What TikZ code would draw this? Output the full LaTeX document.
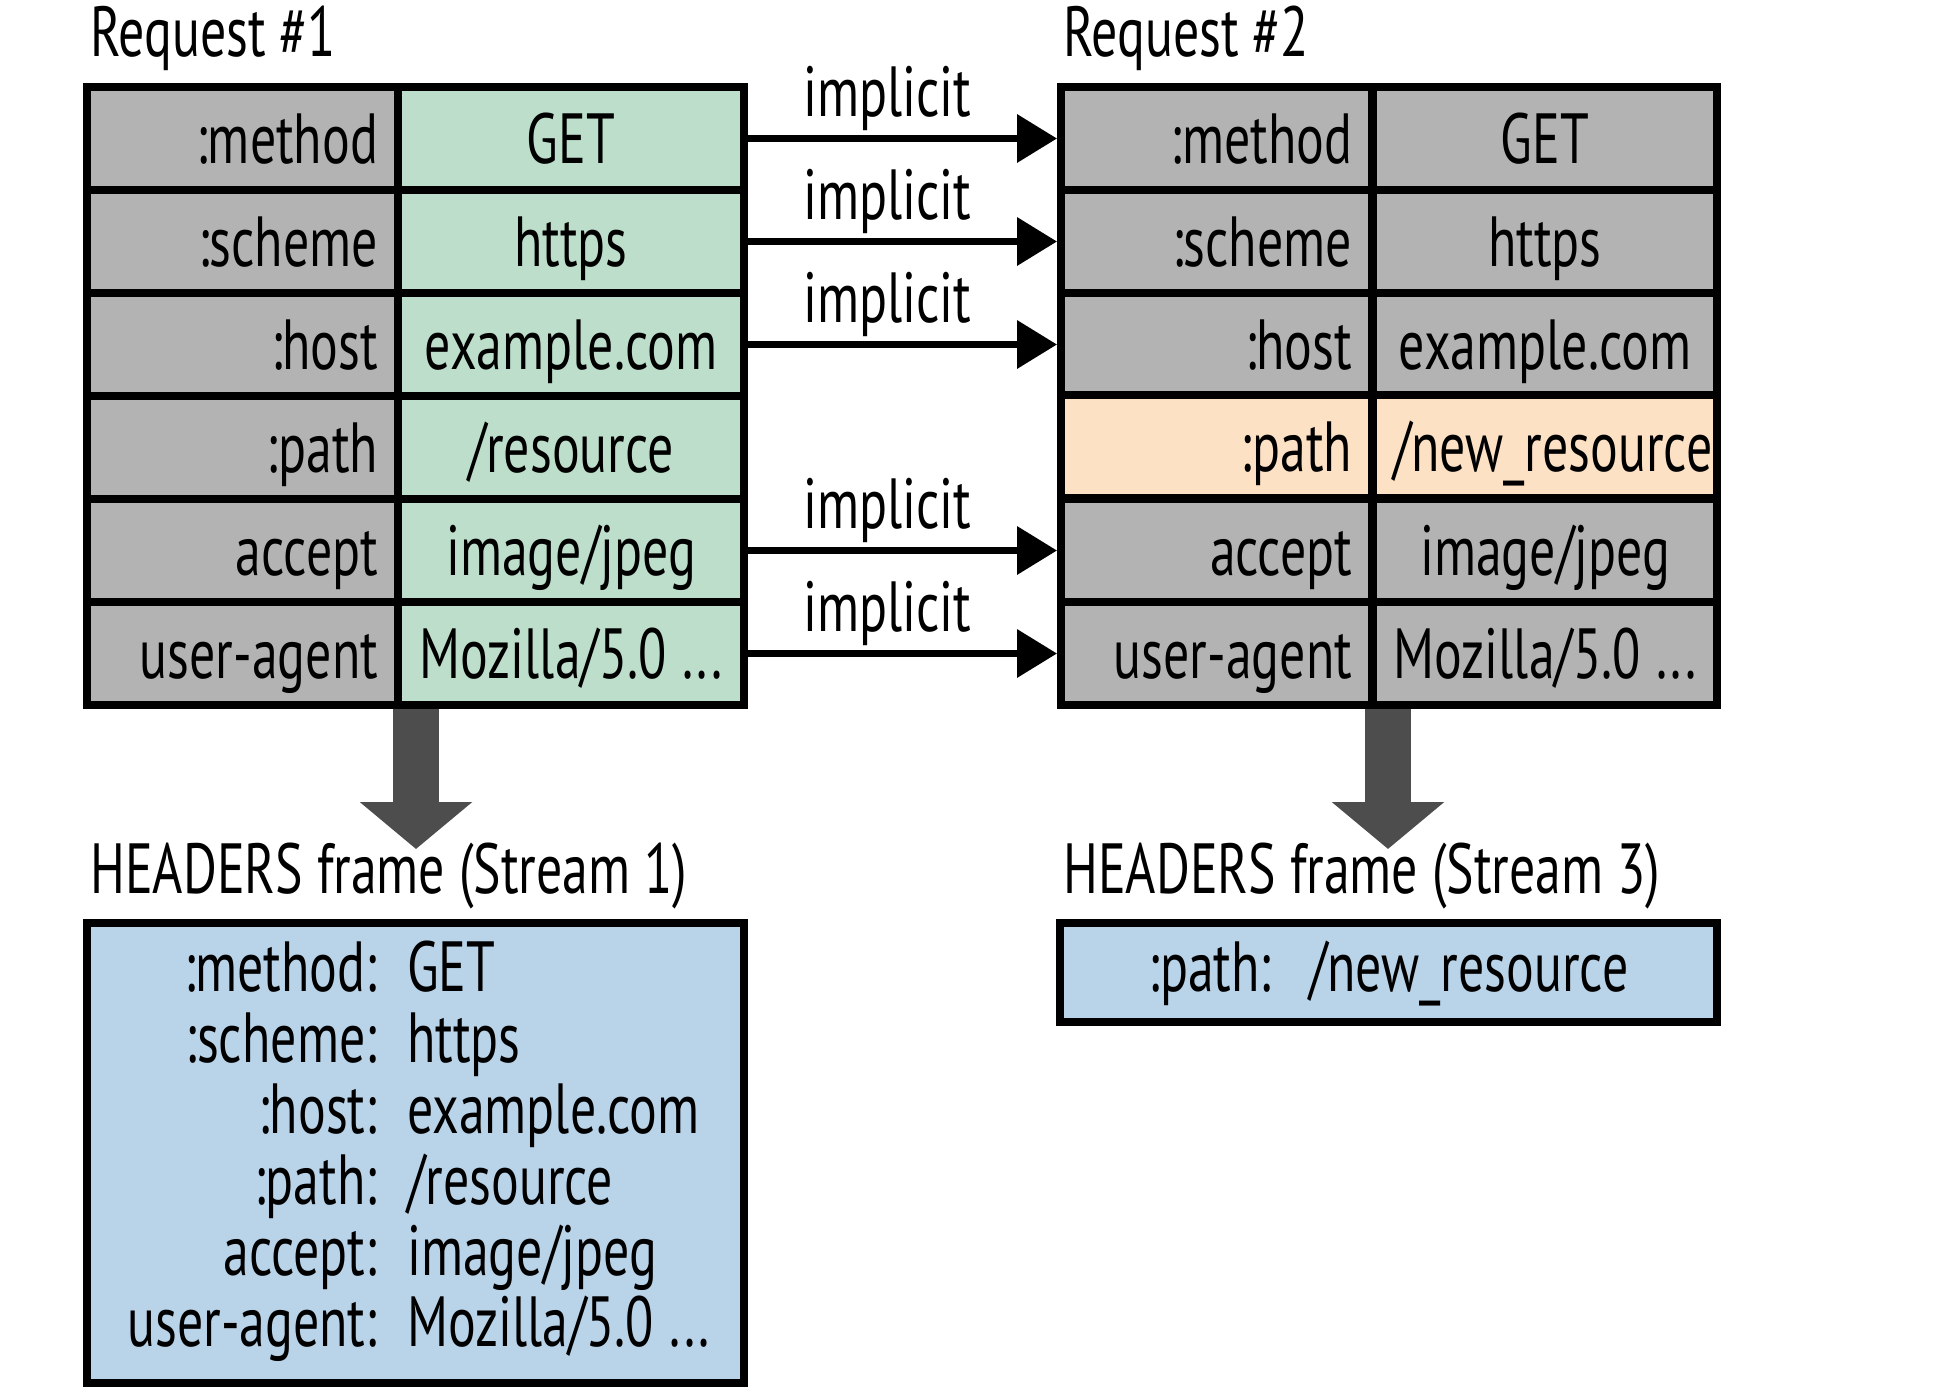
\documentclass[tikz,border=0pt]{standalone}
\usepackage{fontspec}
\setmainfont{PT Sans}[FakeStretch=0.73]
\usetikzlibrary{arrows.meta,calc}
\definecolor{keygray}{HTML}{B3B3B3}
\definecolor{valgreen}{HTML}{BCDECB}
\definecolor{valorange}{HTML}{FCE1C4}
\definecolor{frameblue}{HTML}{B9D3E8}
\definecolor{bigarrowgray}{HTML}{4D4D4D}
\frenchspacing
\newcommand{\mozstr}{\mbox{Mozilla/5.0\kern0.22em...}}
\newcommand{\jpegstr}{image/jpeg}
\newcommand{\resstr}{/resource}
\begin{document}
\begin{tikzpicture}[x=1pt,y=-1pt,
  font=\fontsize{71}{80}\selectfont,
  cellbase/.style={draw=black, line width=8pt, minimum height=103pt, inner xsep=20pt, inner ysep=0pt, text height=50pt, text depth=0pt},
  keycell/.style={cellbase, fill=keygray, text width=271pt, align=right},
  valcell/.style={cellbase, fill=valgreen, text width=306pt, align=center},
  val2cell/.style={cellbase, fill=keygray, text width=304pt, align=center},
  title/.style={anchor=base west, inner sep=0pt},
  lbl/.style={anchor=base, inner sep=0pt},
  implarrow/.style={line width=7pt, -{Triangle[length=40pt,width=47pt]}},
  bigarrow/.style={line width=46pt, draw=bigarrowgray, -{Triangle[length=47pt,width=110pt]}},
  framebox/.style={draw=black, line width=8pt, fill=frameblue, inner sep=0pt},
  fkey/.style={anchor=base east, inner sep=0pt},
  fval/.style={anchor=base west, inner sep=0pt}
]
\useasboundingbox (0,0) rectangle (1950,1394);

% titles
\node[title] (req1) at (90,57) {Request \#1};
\node[title] (req2) at (1063,57) {Request \#2};

% table 1
\foreach \i/\k/\v in {1/:method/GET,2/:scheme/https,3/:host/example.com,4/:path/\resstr,5/accept/\jpegstr,6/user-agent/\mozstr}{
  \pgfmathsetmacro{\yy}{87+103*(\i-0.5)}
  \node[keycell] (t1k\i) at (242.5,\yy) {\k};
  \node[valcell] (t1v\i) at (571,\yy) {\v};
}
% table 2
\foreach \i/\k/\v in {1/:method/GET,2/:scheme/https,3/:host/example.com,5/accept/\jpegstr,6/user-agent/\mozstr}{
  \pgfmathsetmacro{\yy}{87+103*(\i-0.5)}
  \node[keycell] (t2k\i) at (1216.5,\yy) {\k};
  \node[val2cell] (t2v\i) at (1545,\yy) {\v};
}
\node[keycell, fill=valorange] (t2k4) at (1216.5,446.5) {:path};
\node[val2cell, fill=valorange] (t2v4) at (1545,446.5) {/new\_resource};

% implicit arrows
\foreach \i in {1,2,3,5,6}{
  \draw[implarrow] (t1v\i.east) -- (t2k\i.west)
    node[lbl, pos=0.45, yshift=22pt] (imp\i) {implicit};
}

% big down arrows
\coordinate (d1s) at ($(t1k6.south east)+(14,0)$);
\coordinate (d1e) at (d1s |- 0,849);
\coordinate (d2s) at ($(t2k6.south east)+(12,0)$);
\coordinate (d2e) at (d2s |- 0,849);
\draw[bigarrow] (d1s) -- (d1e);
\draw[bigarrow] (d2s) -- (d2e);

% frame titles
\node[title] (hf1) at (90,893) {HEADERS frame (Stream 1)};
\node[title] (hf3) at (1063,893) {HEADERS frame (Stream 3)};

% frame boxes
\node[framebox, minimum width=657pt, minimum height=460pt] (f1) at (415.5,1153) {};
\node[framebox, minimum width=657pt, minimum height=99pt] (f3) at (1388.5,972.5) {};

\foreach \i/\k/\v in {0/:method:/GET,1/:scheme:/https,2/:host:/example.com,3/:path:/\resstr,4/accept:/\jpegstr,5/user-agent:/\mozstr}{
  \pgfmathsetmacro{\yy}{991+71.1*\i}
  \node[fkey] (fk\i) at (377,\yy) {\k};
  \node[fval] (fv\i) at (407,\yy) {\v};
}
\node[lbl] (f3t) at (1388.5,991) {:path:\hspace{38pt}/new\_resource};
\end{tikzpicture}
\end{document}
